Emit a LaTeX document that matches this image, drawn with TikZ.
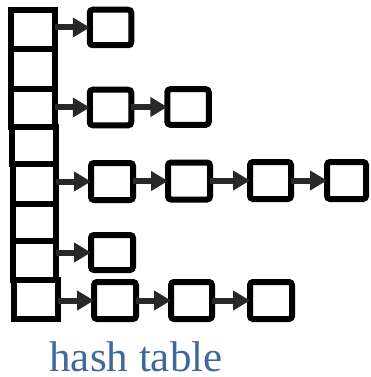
\documentclass[tikz,border=0pt]{standalone}
\usepackage{fontspec}
\setmainfont{Liberation Serif}
\usetikzlibrary{arrows.meta}
\definecolor{arrowgray}{RGB}{40,40,40}
\definecolor{captionblue}{RGB}{64,104,158}
\begin{document}
\begin{tikzpicture}[x=1pt,y=-1pt,
  cell/.style={draw=black,line width=6pt,inner sep=0pt,outer sep=0pt},
  item/.style={draw=black,line width=6pt,rounded corners=3pt,inner sep=0pt,outer sep=0pt,minimum width=41.5pt,minimum height=35.5pt},
  arr/.style={draw=arrowgray,line width=6pt,-{Triangle[length=17pt,width=19pt]}},
  caption/.style={text=captionblue,font=\fontsize{43}{50}\selectfont,inner sep=0pt,anchor=base,text depth=0pt}]
\useasboundingbox (0,0) rectangle (370,377);
% hash table cells
\node[cell,minimum width=44pt,minimum height=39.5pt] (h1) at (33.4,29.75) {};
\node[cell,minimum width=44pt,minimum height=39.5pt] (h2) at (33.4,69.25) {};
\node[cell,minimum width=44pt,minimum height=38pt] (h3) at (33.4,108) {};
\node[cell,minimum width=44pt,minimum height=37pt] (h4) at (33.8,145.5) {};
\node[cell,minimum width=43pt,minimum height=39.5pt] (h5) at (34.75,183.75) {};
\node[cell,minimum width=43pt,minimum height=37.5pt] (h6) at (34.75,222.25) {};
\node[cell,minimum width=43pt,minimum height=39pt] (h7) at (34.75,260.5) {};
\node[cell,minimum width=43.5pt,minimum height=39pt] (h8) at (36,299.5) {};
% chain items
\node[item] (a1) at (110.5,27.5) {};
\node[item] (c1) at (110.5,107.5) {};
\node[item] (c2) at (188,107) {};
\node[item,minimum width=42pt,minimum height=37pt] (e1) at (112,181.5) {};
\node[item,minimum width=42pt,minimum height=37pt] (e2) at (189,181) {};
\node[item,minimum width=41pt,minimum height=37pt] (e3) at (270.5,180.5) {};
\node[item,minimum width=39pt,minimum height=37pt] (e4) at (346.5,180.5) {};
\node[item,minimum width=42pt,minimum height=35pt] (g1) at (112,252.5) {};
\node[item,minimum width=42pt,minimum height=37pt] (k1) at (115,300.5) {};
\node[item,minimum width=41pt,minimum height=37pt] (k2) at (191.5,300.5) {};
\node[item,minimum width=42pt,minimum height=37pt] (k3) at (271,300.5) {};
% arrows
\draw[arr] (h1.east |- a1.west) -- (a1.west);
\draw[arr] (h3.east |- c1.west) -- (c1.west);
\draw[arr] (c1.east |- c2.west) -- (c2.west);
\draw[arr] (h5.east |- e1.west) -- (e1.west);
\draw[arr] (e1.east |- e2.west) -- (e2.west);
\draw[arr] (e2.east |- e3.west) -- (e3.west);
\draw[arr] (e3.east |- e4.west) -- (e4.west);
\draw[arr] (h7.east |- g1.west) -- (g1.west);
\draw[arr] (h8.east |- k1.west) -- (k1.west);
\draw[arr] (k1.east |- k2.west) -- (k2.west);
\draw[arr] (k2.east |- k3.west) -- (k3.west);
% caption
\node[caption] (cap) at (136,371) {hash table};
\end{tikzpicture}
\end{document}
